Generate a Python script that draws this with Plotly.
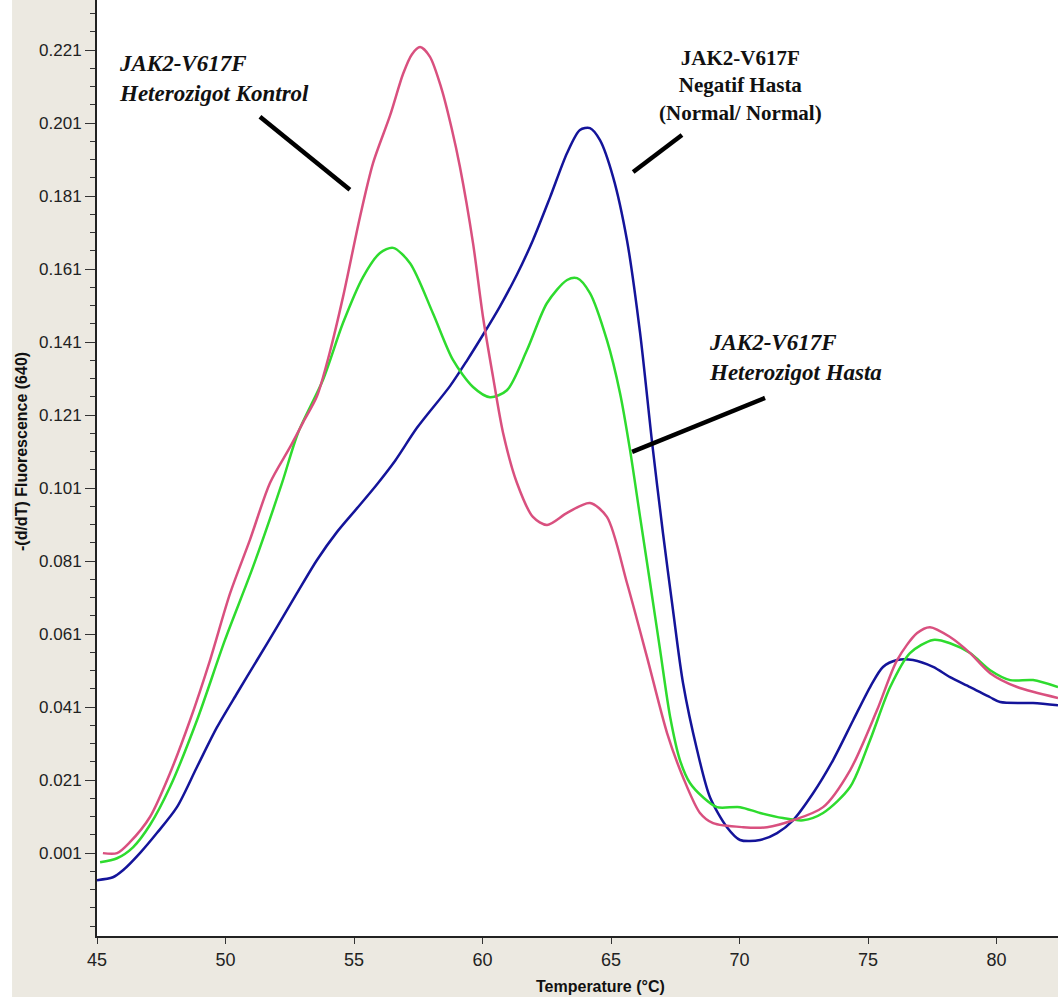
import plotly.graph_objects as go

# ---------------- data ----------------
kontrol_T = [45.23, 45.78, 46.28, 47.06, 47.84, 48.62, 49.40, 50.18, 50.95, 51.73, 52.51, 53.02, 53.56,
             54.05, 54.57, 55.23, 55.74, 56.40, 56.91, 57.25, 57.57, 57.95, 58.40, 58.80, 59.12, 59.63,
             60.02, 60.41, 60.80, 61.34, 61.96, 62.51, 63.29, 64.18, 64.84, 65.62, 66.40, 67.18, 67.80,
             68.46, 68.97, 70.14, 71.07, 72.08, 73.25, 74.30, 75.35, 76.13, 76.91, 77.41, 78.19, 78.97,
             79.75, 80.80, 82.39]
kontrol_y = [0.001, 0.001, 0.004, 0.0109, 0.0229, 0.0374, 0.0539, 0.0722, 0.0868, 0.1024, 0.1122, 0.1190,
             0.1262, 0.1380, 0.1533, 0.1752, 0.1900, 0.2030, 0.2145, 0.2198, 0.2218, 0.2192, 0.2105,
             0.1995, 0.1890, 0.1681, 0.1478, 0.1314, 0.1161, 0.1024, 0.0931, 0.0909, 0.0942, 0.0969,
             0.0931, 0.0750, 0.0547, 0.0339, 0.0218, 0.0120, 0.0092, 0.0081, 0.0081, 0.0100, 0.0136,
             0.0237, 0.0402, 0.0539, 0.0613, 0.0629, 0.0602, 0.0558, 0.0503, 0.0465, 0.0435]

hasta_T = [45.12, 45.78, 46.40, 47.06, 47.84, 48.89, 49.98, 51.07, 52.20, 52.82, 53.79, 54.57, 55.35,
           56.01, 56.52, 57.18, 58.07, 58.85, 59.63, 60.29, 60.95, 61.73, 62.51, 63.29, 63.68, 64.18,
           64.84, 65.35, 65.74, 66.13, 66.52, 66.91, 67.30, 67.68, 68.07, 68.58, 69.12, 70.02, 70.80,
           71.69, 72.47, 73.25, 74.30, 75.08, 75.86, 76.63, 77.53, 78.19, 78.97, 79.75, 80.53, 81.42, 82.39]
hasta_y = [-0.0015, -0.0004, 0.0026, 0.0087, 0.0191, 0.0374, 0.0594, 0.0794, 0.1024, 0.1161, 0.1306,
           0.1462, 0.1588, 0.1654, 0.1668, 0.1626, 0.1489, 0.1361, 0.1287, 0.1259, 0.1278, 0.1388,
           0.1517, 0.1580, 0.1585, 0.1544, 0.1415, 0.1270, 0.1114, 0.0931, 0.0750, 0.0566, 0.0383,
           0.0265, 0.0202, 0.0163, 0.0136, 0.0136, 0.0120, 0.0106, 0.0100, 0.0120, 0.0191, 0.0320,
           0.0465, 0.0558, 0.0594, 0.0585, 0.0558, 0.0511, 0.0484, 0.0484, 0.0465]

negatif_T = [45.00, 45.62, 46.01, 46.67, 47.33, 48.11, 48.89, 49.67, 50.45, 51.23, 52.00, 52.78, 53.56,
             54.34, 55.12, 55.89, 56.60, 57.45, 58.74, 59.40, 60.02, 60.68, 61.34, 61.96, 62.63, 63.29,
             63.79, 64.18, 64.57, 65.08, 65.62, 66.13, 66.60, 67.02, 67.41, 67.80, 68.35, 68.85, 69.51,
             70.02, 70.80, 71.46, 72.08, 72.86, 73.64, 74.42, 75.08, 75.58, 76.13, 76.75, 77.53, 78.19,
             78.97, 79.75, 80.14, 81.42, 82.39]
negatif_y = [-0.0064, -0.0056, -0.0037, 0.001, 0.0065, 0.0136, 0.0246, 0.0355, 0.0448, 0.0539, 0.0629,
             0.0722, 0.0813, 0.0890, 0.0955, 0.1020, 0.1085, 0.1175, 0.1290, 0.1360, 0.1430, 0.1508,
             0.1595, 0.1689, 0.1807, 0.1928, 0.1991, 0.1996, 0.1963, 0.1862, 0.1689, 0.1435, 0.1133,
             0.0887, 0.0676, 0.0476, 0.0292, 0.0163, 0.0081, 0.0046, 0.0046, 0.0065, 0.0100, 0.0174,
             0.0265, 0.0374, 0.0465, 0.0520, 0.0539, 0.0539, 0.0520, 0.0492, 0.0465, 0.0437, 0.0424,
             0.0421, 0.0415]

x_ticks = [45, 50, 55, 60, 65, 70, 75, 80]
y_ticks = [0.001, 0.021, 0.041, 0.061, 0.081, 0.101, 0.121, 0.141, 0.161, 0.181, 0.201, 0.221]
y_tick_labels = ["%.3f" % v for v in y_ticks]

labels = ["JAK2-V617F<br>Heterozigot Kontrol",
          "JAK2-V617F<br>Negatif Hasta<br>(Normal/ Normal)",
          "JAK2-V617F<br>Heterozigot Hasta"]

# ---------------- figure ----------------
fig = go.Figure()
fig.add_trace(go.Scatter(x=negatif_T, y=negatif_y, mode="lines",
                         line=dict(color="#14149A", width=2.5, shape="spline", smoothing=0.8)))
fig.add_trace(go.Scatter(x=hasta_T, y=hasta_y, mode="lines",
                         line=dict(color="#2EDB2E", width=2.5, shape="spline", smoothing=0.8)))
fig.add_trace(go.Scatter(x=kontrol_T, y=kontrol_y, mode="lines",
                         line=dict(color="#D9507F", width=2.5, shape="spline", smoothing=0.8)))

beige = "#ECE9E1"
serif = "Liberation Serif, Times New Roman, serif"

fig.update_layout(
    width=1058, height=1000,
    margin=dict(l=97, r=0, t=0, b=64),
    paper_bgcolor=beige, plot_bgcolor="white",
    showlegend=False,
    font=dict(family="Liberation Sans, Arial, sans-serif", color="#222222"),
    xaxis=dict(range=[45, 82.39], tickvals=x_ticks, ticks="outside", ticklen=6, tickwidth=1,
               tickcolor="#333333", showgrid=False, zeroline=False, showline=True,
               linecolor="#222222", linewidth=2, tickfont=dict(size=18, color="#222222")),
    yaxis=dict(range=[-0.0217, 0.2347], tickvals=y_ticks, ticktext=y_tick_labels, ticks="outside",
               ticklen=10, tickwidth=1, tickcolor="#333333", showgrid=False, zeroline=False,
               showline=True, linecolor="#222222", linewidth=2, tickfont=dict(size=17, color="#222222"),
               minor=dict(tick0=0.001, dtick=0.005, ticks="outside", ticklen=5, tickcolor="#333333",
                          showgrid=False)),
)

# white strip on far left / bottom of the image
fig.add_shape(type="rect", xref="paper", yref="paper", x0=-0.11, x1=-0.0884, y0=-0.07, y1=1.0,
              fillcolor="white", line=dict(width=0), layer="below")
fig.add_shape(type="rect", xref="paper", yref="paper", x0=-0.11, x1=1.0, y0=-0.07, y1=-0.0652,
              fillcolor="white", line=dict(width=0), layer="below")

# axis titles
fig.add_annotation(text="<b>Temperature (°C)</b>", xref="paper", yref="paper",
                   x=(600 - 97) / 961, y=-(986 - 936) / 936, xanchor="center", yanchor="middle",
                   showarrow=False, font=dict(size=16, color="#111111"))
fig.add_annotation(text="<b>-(d/dT) Fluorescence (640)</b>", xref="paper", yref="paper",
                   x=-(97 - 22) / 961, y=(936 - 452) / 936, xanchor="center", yanchor="middle",
                   textangle=-90, showarrow=False, font=dict(size=16, color="#111111"))

# callout labels
fig.add_annotation(text="<b><i>" + labels[0] + "</i></b>", x=45.78, y=0.2133, xanchor="left",
                   yanchor="middle", align="left", showarrow=False,
                   font=dict(family=serif, size=23, color="#111111"))
fig.add_annotation(text="<b>" + labels[1] + "</b>", x=70.02, y=0.2114, xanchor="center",
                   yanchor="middle", align="center", showarrow=False,
                   font=dict(family=serif, size=21, color="#111111"))
fig.add_annotation(text="<b><i>" + labels[2] + "</i></b>", x=68.74, y=0.1369, xanchor="left",
                   yanchor="middle", align="left", showarrow=False,
                   font=dict(family=serif, size=23, color="#111111"))

# pointer lines
for (x0, y0, x1, y1) in [(51.34, 0.2027, 54.84, 0.1827),
                         (65.86, 0.1876, 67.76, 0.1977),
                         (65.82, 0.1109, 70.99, 0.1257)]:
    fig.add_shape(type="line", xref="x", yref="y", x0=x0, y0=y0, x1=x1, y1=y1,
                  line=dict(color="black", width=4.5))

fig.write_html("out.html", config={"displayModeBar": False},
               post_script="document.body.style.margin='0';document.body.style.overflow='hidden';")
